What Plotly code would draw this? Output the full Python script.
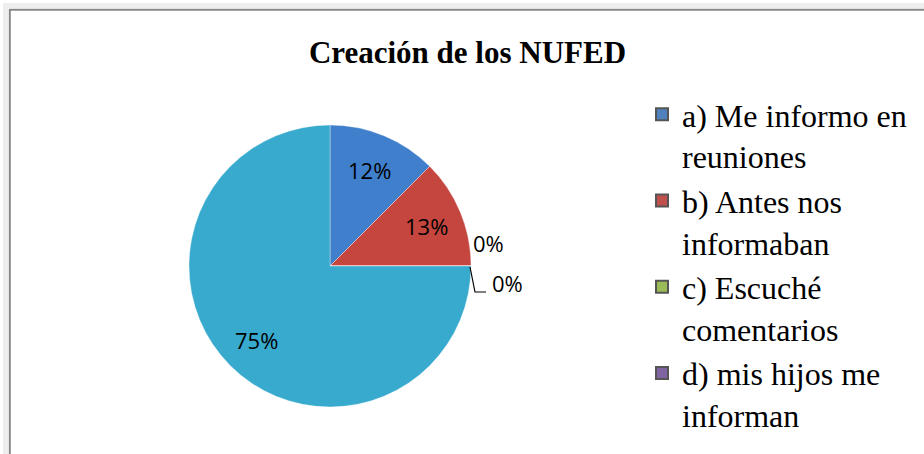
import math
import plotly.graph_objects as go

W, H = 924, 454

title = "Creación de los NUFED"
categories = ["a) Me informo en reuniones", "b) Antes nos informaban",
              "c) Escuché comentarios", "d) mis hijos me informan", "e)"]
legend_labels = ["a) Me informo en<br>reuniones", "b) Antes nos<br>informaban",
                 "c) Escuché<br>comentarios", "d) mis hijos me<br>informan"]
values = [1, 1, 0, 0, 6]
pct_labels = ["12%", "13%", "0%", "0%", "75%"]
slice_colors = ["#3f7fcc", "#c4463f", "#9bbb59", "#8064a2", "#37aace"]
legend_colors = ["#4f81bd", "#c0504d", "#9bbb59", "#8064a2"]

# pie geometry in pixels
cx, cy, r = 330, 266, 141
dom_x = [(cx - r) / W, (cx + r) / W]
dom_y = [1 - (cy + r) / H, 1 - (cy - r) / H]

def px(x):
    return x / W

def py(y):
    return 1 - y / H

fig = go.Figure()
fig.add_trace(go.Pie(
    labels=categories, values=values, sort=False, direction="clockwise",
    rotation=0, domain=dict(x=dom_x, y=dom_y),
    textinfo="none",
    marker=dict(colors=slice_colors, line=dict(color="rgba(255,255,255,0.35)", width=1)),
    showlegend=False, hoverinfo="label+percent",
))

for lab, col in zip(legend_labels, legend_colors):
    fig.add_trace(go.Scatter(
        x=[None], y=[None], mode="markers", name=lab,
        marker=dict(symbol="square", size=15, color=col,
                    line=dict(color="#555", width=0.5)),
    ))

# data labels placed at the mid-angle of each slice
total = sum(values)
annotations = []
cum = 0
zero_offsets = [(17, -23), (36, 17)]
zk = 0
lab_font = dict(family="Open Sans", size=22, color="black")
for v, t in zip(values, pct_labels):
    if v > 0:
        mid = (cum + v / 2) / total * 2 * math.pi
        rr = 0.74 * r
        x = cx + rr * math.sin(mid)
        y = cy - rr * math.cos(mid)
    else:
        a = cum / total * 2 * math.pi
        ex, ey = cx + r * math.sin(a), cy - r * math.cos(a)
        dx, dy = zero_offsets[zk]
        zk += 1
        x, y = ex + dx, ey + dy
    annotations.append(dict(x=px(x), y=py(y), xref="paper", yref="paper",
                            xanchor="center", yanchor="middle",
                            text=t, showarrow=False, font=lab_font))
    cum += v

shapes = [
    dict(type="rect", xref="paper", yref="paper",
         x0=px(5.5), x1=1.05, y0=-0.05, y1=py(5.5),
         line=dict(color="rgba(0,0,0,0.07)", width=5), fillcolor="rgba(0,0,0,0)"),
    dict(type="rect", xref="paper", yref="paper",
         x0=px(9.8), x1=1.05, y0=-0.05, y1=py(9.8),
         line=dict(color="#878787", width=2), fillcolor="rgba(0,0,0,0)"),
    # leader line for the second zero label
    dict(type="path", xref="paper", yref="paper",
         path=f"M {px(cx + r - 1)},{py(cy + 1)} L {px(cx + r + 4)},{py(cy + 26)} L {px(cx + r + 15)},{py(cy + 26)}",
         line=dict(color="black", width=1.2)),
]

fig.update_layout(
    width=W, height=H, margin=dict(l=0, r=0, t=0, b=0),
    paper_bgcolor="white", plot_bgcolor="white",
    title=dict(text=f"<b>{title}</b>", x=px(467.5), xanchor="center",
               y=py(52), yanchor="middle",
               font=dict(family="Liberation Serif", size=31, color="black")),
    xaxis=dict(visible=False), yaxis=dict(visible=False),
    legend=dict(x=px(642), y=py(87), xanchor="left", yanchor="top", valign="top",
                font=dict(family="Liberation Serif", size=32, color="black"),
                tracegroupgap=0, itemsizing="constant", bgcolor="rgba(0,0,0,0)"),
    annotations=annotations, shapes=shapes,
)

fig.write_html("out.html", config={"displayModeBar": False},
               post_script="document.body.style.margin='0';")
